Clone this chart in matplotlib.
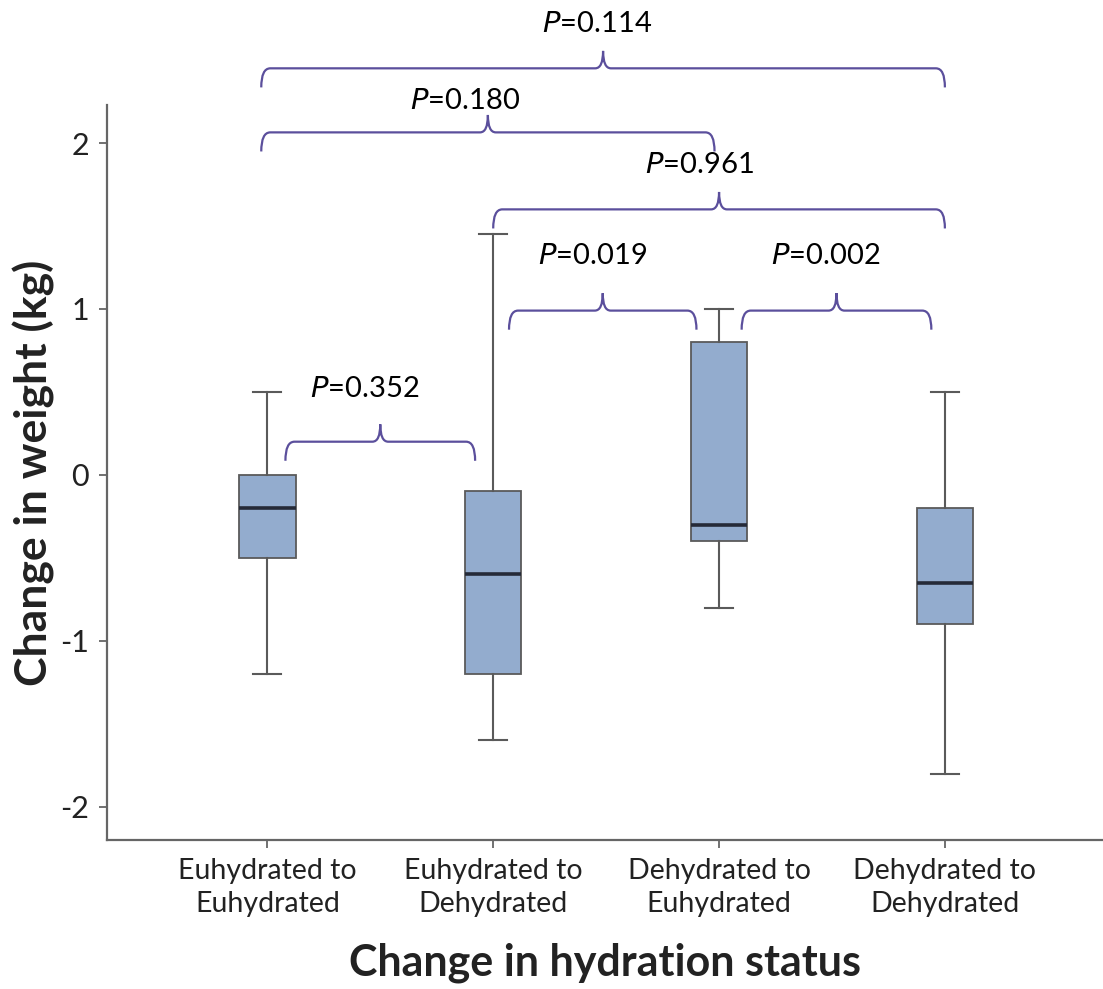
import numpy as np
import matplotlib.pyplot as plt
from matplotlib.path import Path
from matplotlib.patches import PathPatch

plt.rcParams['font.family'] = ['Lato', 'DejaVu Sans']
plt.rcParams['axes.unicode_minus'] = False

groups = ['Euhydrated to\nEuhydrated', 'Euhydrated to\nDehydrated',
          'Dehydrated to\nEuhydrated', 'Dehydrated to\nDehydrated']
whislo = [-1.2, -1.6, -0.8, -1.8]
q1 = [-0.5, -1.2, -0.4, -0.9]
med = [-0.2, -0.6, -0.3, -0.65]
q3 = [0.0, -0.1, 0.8, -0.2]
whishi = [0.5, 1.45, 1.0, 0.5]

# pairwise comparisons: bracket span, bracket height and p-value
comp_left = [1.08, 2.07, 3.10, 2.0, 0.973, 0.973]
comp_right = [1.92, 2.90, 3.94, 4.0, 2.98, 4.0]
comp_y = [0.20, 0.99, 0.99, 1.60, 2.064, 2.45]
comp_p = ['0.352', '0.019', '0.002', '0.961', '0.180', '0.114']

brace_col = '#5b4f9c'


def brace(ax, x0, x1, y, drop=0.115, rise=0.105, rx=0.04, rm=0.035):
    xm = (x0 + x1) / 2
    verts = [(x0, y - drop), (x0, y), (x0 + rx, y),
             (xm - rm, y), (xm, y), (xm, y + rise),
             (xm, y), (xm + rm, y),
             (x1 - rx, y), (x1, y), (x1, y - drop)]
    codes = [Path.MOVETO, Path.CURVE3, Path.CURVE3,
             Path.LINETO, Path.CURVE3, Path.CURVE3,
             Path.CURVE3, Path.CURVE3,
             Path.LINETO, Path.CURVE3, Path.CURVE3]
    ax.add_patch(PathPatch(Path(verts, codes), fc='none', ec=brace_col,
                           lw=1.6, clip_on=False))


fig = plt.figure(figsize=(11.03, 9.89), dpi=100)
ax = fig.add_axes([0.097, 0.1507, 0.903, 0.7433])

stats = []
for i in range(len(groups)):
    stats.append(dict(whislo=whislo[i], q1=q1[i], med=med[i],
                      q3=q3[i], whishi=whishi[i], fliers=[]))

pos = np.arange(1, len(groups) + 1)
ax.bxp(stats, positions=pos, widths=0.25, patch_artist=True,
       boxprops=dict(facecolor='#93acce', edgecolor='#5a5a5a', lw=1.3),
       medianprops=dict(color='#252a38', lw=2.6),
       whiskerprops=dict(color='#5a5a5a', lw=1.5),
       capprops=dict(color='#5a5a5a', lw=1.5),
       capwidths=0.125)

# label gap above each bracket (the 0.180 label sits tight between brackets)
label_gap = [0.32, 0.33, 0.33, 0.27, 0.19, 0.27]
label_shift = [-0.07, -0.045, -0.05, -0.085, -0.10, -0.025]
for x0, x1, y, p, g, dx in zip(comp_left, comp_right, comp_y, comp_p,
                               label_gap, label_shift):
    brace(ax, x0, x1, y)
    ax.text((x0 + x1) / 2 + dx, y + g, r'$\it{P}$' + '=' + p, ha='center',
            va='center', fontsize=21, clip_on=False)

ax.set_xlim(0.29, 4.7)
ax.set_ylim(-2.2, 2.23)
ax.set_yticks([-2, -1, 0, 1, 2])
ax.set_xticks(pos)
ax.set_xticklabels(groups, fontsize=20.5, color='#222222', linespacing=1.35)
ax.tick_params(axis='y', labelsize=22, colors='#222222')
ax.tick_params(direction='out', length=6, width=1.3, color='#666666', pad=7)
for s in ['top', 'right']:
    ax.spines[s].set_visible(False)
for s in ['left', 'bottom']:
    ax.spines[s].set_color('#666666')
    ax.spines[s].set_linewidth(1.6)

ax.set_xlabel('Change in hydration status', fontsize=31, fontweight='bold',
              color='#222222', labelpad=18)
ax.set_ylabel('Change in weight (kg)', fontsize=32, fontweight='bold',
              color='#222222')
ax.yaxis.set_label_coords(-0.052, 0.5)

fig.savefig('out.png', dpi=100)
